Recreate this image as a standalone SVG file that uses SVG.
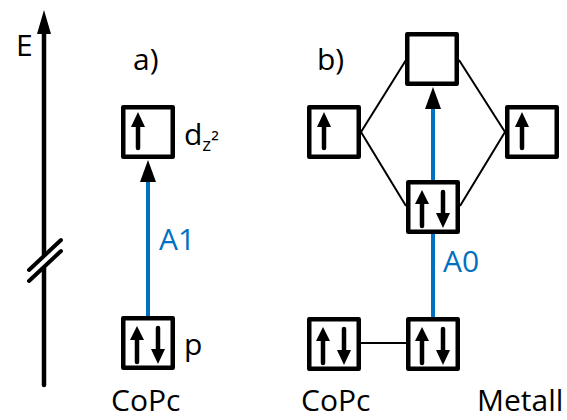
<svg xmlns="http://www.w3.org/2000/svg" width="567" height="420" viewBox="0 0 567 420">
  <style>
    .lbl { font-family: "Open Sans", "Liberation Sans", sans-serif; font-size: 30px; fill: #000; }
    .blue { fill: #0070C0; }
    .box { fill: #fff; stroke: #000; stroke-width: 4.5; stroke-linejoin: round; }
    .spin { stroke: #000; stroke-width: 4.5; stroke-linecap: round; fill: none; }
    .head { fill: #000; }
    .link { stroke: #000; stroke-width: 2; fill: none; }
    .trans { stroke: #0070C0; stroke-width: 4; fill: none; }
  </style>
  <defs>
    <!-- empty orbital box, centred on 0,0 -->
    <rect id="orb" class="box" x="-24.75" y="-24.75" width="49.5" height="49.5"/>
    <!-- one spin-up electron -->
    <g id="one">
      <line class="spin" x1="-10" y1="16" x2="-10" y2="-8"/>
      <polygon class="head" points="-10,-20 -17,-5 -3,-5"/>
    </g>
    <!-- paired electrons -->
    <g id="pair">
      <line class="spin" x1="-11" y1="19" x2="-11" y2="-5"/>
      <polygon class="head" points="-11,-17 -18,-3 -4,-3"/>
      <line class="spin" x1="10" y1="-15" x2="10" y2="9"/>
      <polygon class="head" points="10,21 3,6 17,6"/>
    </g>
  </defs>

  <!-- energy axis -->
  <g id="axis">
    <line x1="44" y1="28" x2="44" y2="385" stroke="#000" stroke-width="4.5" stroke-linecap="round"/>
    <polygon points="44,10 37,34 51,34" fill="#000"/>
    <!-- axis break -->
    <line x1="63" y1="244" x2="27" y2="277" stroke="#fff" stroke-width="9"/>
    <line x1="61" y1="240" x2="29" y2="270" stroke="#000" stroke-width="4" stroke-linecap="round"/>
    <line x1="61" y1="251" x2="29" y2="281" stroke="#000" stroke-width="4" stroke-linecap="round"/>
    <text class="lbl" x="16" y="56" font-size="32">E</text>
  </g>

  <!-- connectors -->
  <g id="connectors">
    <!-- hybridisation lines -->
    <polyline class="link" points="406,60 361,132 406,206"/>
    <polyline class="link" points="459,60 505,132 460,206"/>
    <line class="link" x1="361" y1="343" x2="406" y2="343"/>
    <!-- A1 transition -->
    <line class="trans" x1="148" y1="316" x2="148" y2="176"/>
    <polygon class="head blue" points="148,160 140,182 156,182"/>
    <!-- A0 transition -->
    <line class="trans" x1="433" y1="317" x2="433" y2="104"/>
    <polygon class="head blue" points="433,87 425,109 441,109"/>
  </g>

  <!-- panel a -->
  <g id="a-label"><text class="lbl" x="133" y="70">a)</text></g>
  <g id="a-dz2">
    <use href="#orb" x="148" y="132"/>
    <use href="#one" x="148" y="132"/>
    <text class="lbl" x="184" y="145">d<tspan font-size="19" dy="6">z</tspan><tspan font-size="22" dy="-2">²</tspan></text>
  </g>
  <g id="a-p">
    <use href="#orb" x="148" y="343"/>
    <use href="#pair" x="148" y="343"/>
    <text class="lbl" x="184" y="355">p</text>
  </g>
  <g id="a-A1"><text class="lbl blue" x="159" y="250">A1</text></g>
  <g id="a-name"><text class="lbl" x="111" y="411">CoPc</text></g>

  <!-- panel b -->
  <g id="b-label"><text class="lbl" x="317" y="70">b)</text></g>
  <g id="b-top"><use href="#orb" x="432" y="59"/></g>
  <g id="b-left">
    <use href="#orb" x="334" y="132"/>
    <use href="#one" x="334" y="132"/>
  </g>
  <g id="b-right">
    <use href="#orb" x="532" y="132"/>
    <use href="#one" x="532" y="132"/>
  </g>
  <g id="b-mid">
    <use href="#orb" x="433" y="207"/>
    <use href="#pair" x="433" y="207"/>
  </g>
  <g id="b-copc">
    <use href="#orb" x="334" y="344"/>
    <use href="#pair" x="334" y="344"/>
  </g>
  <g id="b-metal">
    <use href="#orb" x="433" y="344"/>
    <use href="#pair" x="433" y="344"/>
  </g>
  <g id="b-A0"><text class="lbl blue" x="443" y="272">A0</text></g>
  <g id="b-names">
    <text class="lbl" x="301" y="411">CoPc</text>
    <text class="lbl" x="477" y="411">Metall</text>
  </g>
</svg>
